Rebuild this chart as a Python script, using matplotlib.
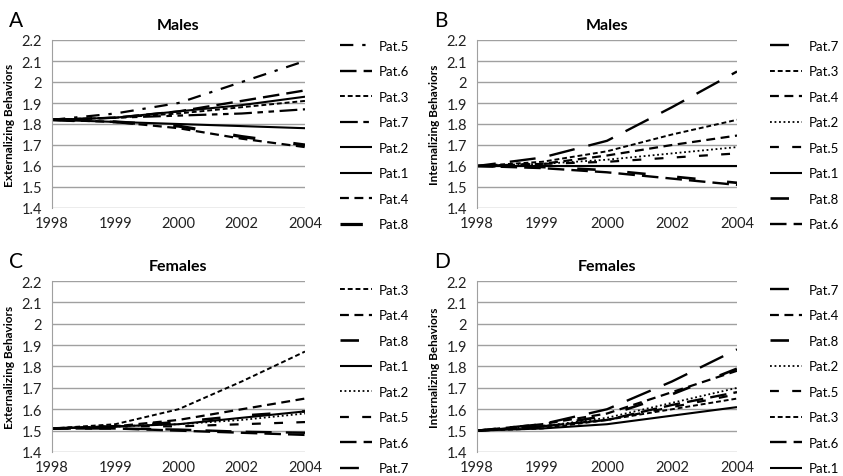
import matplotlib
matplotlib.use("Agg")
import matplotlib.pyplot as plt

plt.rcParams['font.family'] = ['Lato', 'DejaVu Sans']

years = ["1998", "1999", "2000", "2002", "2004"]
yticks = [1.4, 1.5, 1.6, 1.7, 1.8, 1.9, 2.0, 2.1, 2.2]
ytick_labels = ["1.4", "1.5", "1.6", "1.7", "1.8", "1.9", "2", "2.1", "2.2"]

# Panel A: Externalizing, Males
a_order = ["Pat.5", "Pat.6", "Pat.3", "Pat.7", "Pat.2", "Pat.1", "Pat.4", "Pat.8"]
a_vals = {
    "Pat.5": [1.82, 1.85, 1.90, 2.00, 2.10],
    "Pat.6": [1.82, 1.83, 1.86, 1.91, 1.96],
    "Pat.3": [1.82, 1.83, 1.85, 1.88, 1.91],
    "Pat.7": [1.82, 1.83, 1.84, 1.85, 1.87],
    "Pat.2": [1.82, 1.83, 1.86, 1.89, 1.93],
    "Pat.1": [1.82, 1.81, 1.80, 1.79, 1.78],
    "Pat.4": [1.82, 1.81, 1.78, 1.73, 1.69],
    "Pat.8": [1.82, 1.81, 1.79, 1.74, 1.70],
}
# Panel B: Internalizing, Males
b_order = ["Pat.7", "Pat.3", "Pat.4", "Pat.2", "Pat.5", "Pat.1", "Pat.8", "Pat.6"]
b_vals = {
    "Pat.7": [1.60, 1.64, 1.72, 1.88, 2.05],
    "Pat.3": [1.60, 1.62, 1.67, 1.75, 1.82],
    "Pat.4": [1.60, 1.61, 1.65, 1.70, 1.745],
    "Pat.2": [1.60, 1.61, 1.63, 1.66, 1.69],
    "Pat.5": [1.60, 1.61, 1.62, 1.64, 1.66],
    "Pat.1": [1.60, 1.60, 1.60, 1.60, 1.60],
    "Pat.8": [1.60, 1.595, 1.58, 1.55, 1.52],
    "Pat.6": [1.60, 1.59, 1.57, 1.54, 1.51],
}
# Panel C: Externalizing, Females
c_order = ["Pat.3", "Pat.4", "Pat.8", "Pat.1", "Pat.2", "Pat.5", "Pat.6", "Pat.7"]
c_vals = {
    "Pat.3": [1.51, 1.53, 1.60, 1.73, 1.87],
    "Pat.4": [1.51, 1.52, 1.55, 1.60, 1.65],
    "Pat.8": [1.51, 1.52, 1.54, 1.57, 1.59],
    "Pat.1": [1.51, 1.52, 1.53, 1.56, 1.59],
    "Pat.2": [1.51, 1.52, 1.53, 1.55, 1.58],
    "Pat.5": [1.51, 1.52, 1.52, 1.53, 1.54],
    "Pat.6": [1.51, 1.51, 1.50, 1.49, 1.48],
    "Pat.7": [1.51, 1.51, 1.505, 1.495, 1.49],
}
# Panel D: Internalizing, Females
d_order = ["Pat.7", "Pat.4", "Pat.8", "Pat.2", "Pat.5", "Pat.3", "Pat.6", "Pat.1"]
d_vals = {
    "Pat.7": [1.50, 1.53, 1.60, 1.73, 1.88],
    "Pat.4": [1.50, 1.53, 1.58, 1.68, 1.78],
    "Pat.8": [1.50, 1.52, 1.57, 1.67, 1.79],
    "Pat.2": [1.50, 1.52, 1.56, 1.63, 1.70],
    "Pat.5": [1.50, 1.52, 1.55, 1.61, 1.67],
    "Pat.3": [1.50, 1.51, 1.55, 1.60, 1.65],
    "Pat.6": [1.50, 1.52, 1.55, 1.62, 1.68],
    "Pat.1": [1.50, 1.51, 1.53, 1.57, 1.61],
}

common_styles = {
    "Pat.1": dict(ls="-", lw=1.5),
    "Pat.2": dict(ls=(0, (1, 1.5)), lw=1.3),
    "Pat.3": dict(ls=(0, (2.5, 1.5)), lw=1.4),
    "Pat.4": dict(ls=(0, (4, 2.5)), lw=1.6),
    "Pat.5": dict(ls=(0, (4, 6)), lw=1.6),
    "Pat.6": dict(ls=(0, (7, 3)), lw=1.7),
    "Pat.7": dict(ls=(0, (8, 6, 3, 0.01)), lw=1.7),
    "Pat.8": dict(ls=(0, (7, 12)), lw=1.9),
}
a_styles = dict(common_styles)
a_styles.update({
    "Pat.5": dict(ls=(0, (6, 4, 1.5, 4)), lw=1.6),
    "Pat.7": dict(ls=(0, (8, 2.5, 2.5, 2.5, 2.5, 2.5)), lw=1.6),
    "Pat.2": dict(ls="-", lw=1.5),
    "Pat.8": dict(ls=(0, (7, 12)), lw=2.3),
})

panels = [
    ("A", "Males", "Externalizing Behaviors", a_order, a_vals, a_styles,
     [52, 41, 305, 209], [340, 41]),
    ("B", "Males", "Internalizing Behaviors", b_order, b_vals, common_styles,
     [477, 41, 737, 209], [770, 41]),
    ("C", "Females", "Externalizing Behaviors", c_order, c_vals, common_styles,
     [52, 282, 305, 453], [340, 285]),
    ("D", "Females", "Internalizing Behaviors", d_order, d_vals, common_styles,
     [477, 282, 737, 453], [770, 285]),
]

W, H = 843, 477
fig = plt.figure(figsize=(W / 100, H / 100), dpi=100)

for letter, title, ylabel, order, vals, styles, box, leg in panels:
    x0, y0, x1, y1 = box
    ax = fig.add_axes([x0 / W, 1 - y1 / H, (x1 - x0) / W, (y1 - y0) / H])
    xs = list(range(len(years)))
    handles = []
    for name in order:
        st = styles[name]
        ln, = ax.plot(xs, vals[name], color="black", linestyle=st["ls"],
                      linewidth=st["lw"], label=name, solid_capstyle="butt",
                      dash_capstyle="butt")
        handles.append(ln)
    ax.set_xlim(0, len(years) - 1)
    ax.set_ylim(1.4, 2.2)
    ax.set_yticks(yticks)
    ax.set_yticklabels(ytick_labels)
    ax.set_xticks(xs)
    ax.set_xticklabels(years)
    ax.tick_params(axis="x", length=0, labelsize=10.5, colors="#222222", pad=6)
    ax.tick_params(axis="y", length=0, labelsize=10.5, colors="#222222", pad=7)
    ax.grid(axis="y", color="#a0a0a0", linewidth=1)
    ax.set_axisbelow(True)
    for s in ["top", "right", "bottom"]:
        ax.spines[s].set_visible(False)
    ax.spines["left"].set_color("#a0a0a0")
    ax.set_ylabel(ylabel, fontsize=8.5, fontweight="bold", labelpad=5)
    ax.set_title(title, fontsize=11.5, fontweight="bold", pad=8)
    fig.text((x0 - 43) / W, 1 - (y0 - 20) / H, letter, fontsize=15,
             ha="left", va="center")
    ax.legend(handles=handles, loc="upper left",
              bbox_to_anchor=(leg[0] / W, 1 - leg[1] / H),
              bbox_transform=fig.transFigure, frameon=False, fontsize=9.5,
              handlelength=2.4, handletextpad=0.5, labelspacing=1.02,
              borderpad=0, borderaxespad=0)

fig.savefig("out.png", dpi=100)
